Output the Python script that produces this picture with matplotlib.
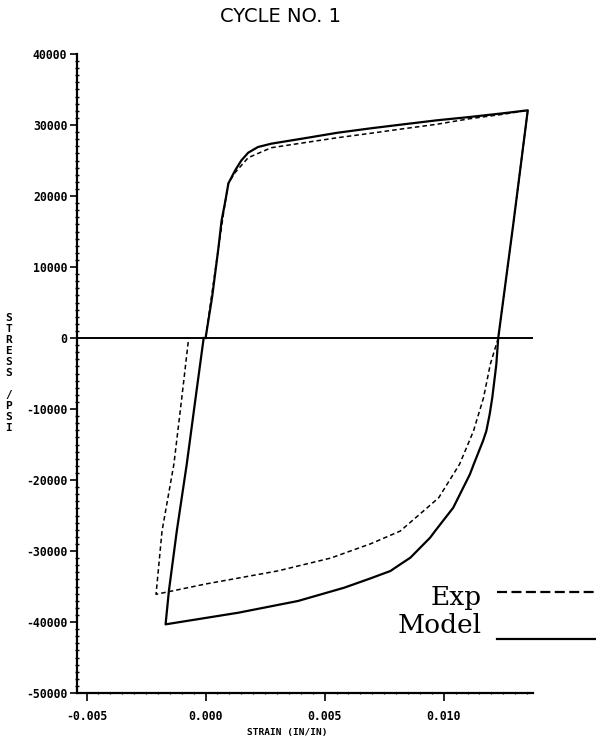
import matplotlib
matplotlib.use("Agg")
import matplotlib.pyplot as plt
from matplotlib.lines import Line2D
from matplotlib.ticker import MultipleLocator, FixedLocator

# ---- data ----
model_strain = [0.0, 0.00028, 0.00054, 0.00067, 0.00083, 0.00096, 0.00124, 0.00150,
                0.00179, 0.00220, 0.00276, 0.00415, 0.00554, 0.00693, 0.00832, 0.00971,
                0.0111, 0.01249, 0.01353, 0.01292, 0.01229, 0.01221, 0.01204, 0.01193,
                0.01179, 0.01165, 0.01126, 0.0111, 0.01061, 0.0104, 0.00964, 0.00943,
                0.0086, 0.00818, 0.00776, 0.00693, 0.00582, 0.00388, 0.00138, -0.00168,
                -0.00154, -0.00121, -0.00079, -0.00042, -0.00008]
model_stress = [0, 5900, 12700, 16500, 19300, 21800, 23600, 25000,
                26100, 26900, 27370, 28130, 28910, 29530, 30100, 30660,
                31130, 31650, 32070, 16000, 0, -3710, -8400, -10750,
                -13100, -14500, -17790, -19200, -22490, -23900, -27180, -28120,
                -30940, -31870, -32820, -33850, -35170, -37040, -38690, -40330,
                -35600, -27200, -17750, -8450, 0]

exp_strain = [0.0, 0.00054, 0.00083, 0.00096, 0.00124, 0.00179, 0.00276, 0.00415,
              0.00554, 0.00693, 0.00832, 0.00971, 0.0111, 0.01249, 0.01353, 0.01292,
              0.01229, 0.01196, 0.01167, 0.01125, 0.01067, 0.00979, 0.009, 0.00817,
              0.00692, 0.00525, 0.00304, 0.0, -0.00208, -0.00183, -0.00133, -0.001,
              -0.00071]
exp_stress = [0, 12700, 19300, 21800, 23300, 25400, 26800, 27510,
              28210, 28830, 29480, 30100, 30890, 31510, 32070, 16000,
              0, -3660, -8450, -13100, -17750, -22500, -24800, -27200,
              -29000, -31000, -32800, -34650, -36100, -27200, -17750, -8450,
              0]

y_ticks = [-50000, -40000, -30000, -20000, -10000, 0, 10000, 20000, 30000, 40000]
x_ticks = [-0.005, 0.000, 0.005, 0.010]
x_ticklabels = ["-0.005", "0.000", "0.005", "0.010"]

title = "CYCLE NO. 1"
xlabel = "STRAIN (IN/IN)"
ylabel = "STRESS /PSI"
legend_labels = ["Exp", "Model"]

# ---- figure ----
W, H = 596, 744
fig = plt.figure(figsize=(W / 100, H / 100), dpi=100)
fig.patch.set_facecolor("white")
ax = fig.add_axes([77 / W, 51 / H, 456 / W, 639 / H])

tick_font = dict(family="DejaVu Sans Mono", weight="bold", size=8.3)

ax.plot(exp_strain, exp_stress, color="black", lw=1.1, linestyle=(0, (3, 2)))
ax.plot(model_strain, model_stress, color="black", lw=1.6)
ax.axhline(0, color="black", lw=1.4)

ax.set_xlim(-0.0054, 0.01375)
ax.set_ylim(-50000, 40000)

for s in ["top", "right"]:
    ax.spines[s].set_visible(False)
for s in ["left", "bottom"]:
    ax.spines[s].set_linewidth(1.6)

ax.yaxis.set_major_locator(FixedLocator(y_ticks))
ax.set_yticklabels([str(v) for v in y_ticks], fontdict=tick_font)
ax.yaxis.set_minor_locator(MultipleLocator(1000))
ax.xaxis.set_major_locator(FixedLocator(x_ticks))
ax.set_xticklabels(x_ticklabels, fontdict=tick_font)
ax.xaxis.set_minor_locator(MultipleLocator(0.0005))

ax.tick_params(axis="y", which="major", direction="out", length=5, width=1.2, pad=2)
ax.tick_params(axis="y", which="minor", direction="inout", length=3, width=1.0)
ax.tick_params(axis="x", which="major", direction="out", length=6, width=1.2, pad=6)
ax.tick_params(axis="x", which="minor", direction="inout", length=2, width=0.8)

# title
fig.text(280 / W, 1 - 17 / H, title, ha="center", va="center",
         fontsize=14, family="DejaVu Sans")

# x label
fig.text(287 / W, 1 - 733 / H, xlabel, ha="center", va="center",
         family="DejaVu Sans Mono", weight="bold", fontsize=6.8)

# stacked y label
fig.text(9 / W, 1 - 373 / H, "\n".join(list(ylabel)), ha="center", va="center",
         family="DejaVu Sans Mono", weight="bold", fontsize=8, linespacing=1.13)

# legend
fig.text(482 / W, 1 - 605 / H, legend_labels[0], ha="right", va="baseline",
         family="DejaVu Serif", fontsize=19)
fig.text(482 / W, 1 - 633 / H, legend_labels[1], ha="right", va="baseline",
         family="DejaVu Serif", fontsize=19)
fig.add_artist(Line2D([497 / W, 596 / W], [1 - 592 / H, 1 - 592 / H],
                      transform=fig.transFigure, color="black", lw=1.6,
                      linestyle=(0, (4.5, 2))))
fig.add_artist(Line2D([497 / W, 596 / W], [1 - 639 / H, 1 - 639 / H],
                      transform=fig.transFigure, color="black", lw=1.6))

fig.savefig("out.png", dpi=100, facecolor="white")
